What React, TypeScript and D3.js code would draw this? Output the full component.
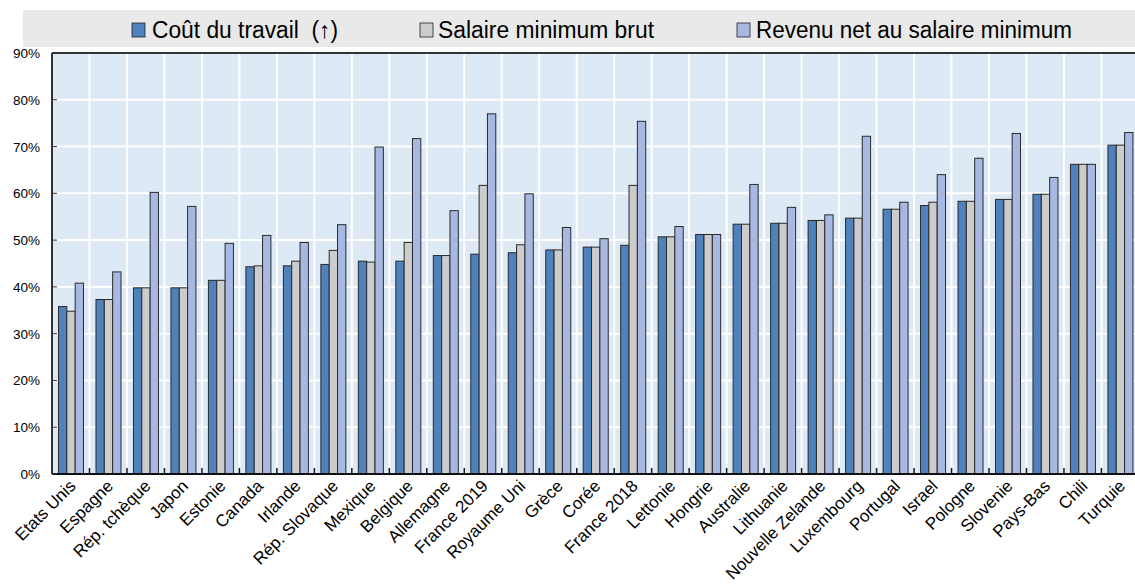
import React from "react";
import * as d3 from "d3";

const categories = ["Etats Unis","Espagne","Rép. tchèque","Japon","Estonie","Canada","Irlande","Rép. Slovaque","Mexique","Belgique","Allemagne","France 2019","Royaume Uni","Grèce","Corée","France 2018","Lettonie","Hongrie","Australie","Lithuanie","Nouvelle Zelande","Luxembourg","Portugal","Israel","Pologne","Slovenie","Pays-Bas","Chili","Turquie"];
const coutTravail = [35.8,37.3,39.8,39.8,41.4,44.3,44.5,44.8,45.5,45.5,46.7,47.0,47.3,47.9,48.5,48.9,50.7,51.2,53.4,53.6,54.2,54.7,56.6,57.4,58.3,58.7,59.8,66.2,70.3];
const salaireBrut = [34.8,37.3,39.8,39.8,41.4,44.5,45.5,47.8,45.3,49.5,46.7,61.7,49.0,47.9,48.5,61.7,50.7,51.2,53.4,53.6,54.2,54.7,56.6,58.1,58.3,58.7,59.8,66.2,70.3];
const revenuNet = [40.8,43.2,60.2,57.2,49.3,51.0,49.5,53.3,69.9,71.7,56.3,77.0,59.9,52.7,50.3,75.4,52.9,51.2,61.9,57.0,55.4,72.2,58.1,64.0,67.5,72.8,63.4,66.2,73.0];
const seriesNames = ["Coût du travail\u00a0\u00a0(↑)","Salaire minimum brut","Revenu net au salaire minimum"];
const yTicks = [0,10,20,30,40,50,60,70,80,90];

const colors = ["#4f81bd","#cccccc","#a7b9e3"];
const W = 1135, H = 587;
const left = 52, top = 53, bottom = 474;
const step = 37.48;
const right = left + step * categories.length;

export default function App() {
  const x = d3.scaleBand<string>().domain(categories).range([left, right]).padding(0);
  const x1 = d3.scaleBand<number>().domain([0,1,2]).range([6.5, 31.5]).padding(0);
  const y = d3.scaleLinear().domain([0, 90]).range([bottom, top]);
  const series = [coutTravail, salaireBrut, revenuNet];
  const font = "'Liberation Sans', Arial, sans-serif";
  const legendItems = [
    { sx: 132, tx: 152, len: 186 },
    { sx: 420, tx: 438, len: 216 },
    { sx: 737, tx: 756, len: 316 },
  ];
  return (
    <div style={{ position: "absolute", left: 0, top: 0 }}>
      <svg width={W} height={H} style={{ display: "block", fontFamily: font }}>
        <rect x={0} y={0} width={W} height={H} fill="#ffffff" />
        {/* legend */}
        <rect x={23} y={10} width={W - 23} height={37} fill="#e9e9e9" />
        {legendItems.map((it, i) => (
          <g key={i}>
            <rect x={it.sx} y={23} width={13} height={14} fill={colors[i]} stroke="#222" strokeWidth={0.8} />
            <text x={it.tx} y={37.5} fontSize={23} fill="#000" textLength={it.len} lengthAdjust="spacingAndGlyphs">{seriesNames[i]}</text>
          </g>
        ))}
        {/* plot bg */}
        <rect x={left} y={top} width={right - left} height={bottom - top} fill="#dde9f5" />
        {/* grid */}
        {yTicks.map((t) => (
          <line key={"h" + t} x1={left} x2={right} y1={y(t)} y2={y(t)} stroke="#ffffff" strokeWidth={2} />
        ))}
        {categories.map((c, i) => i > 0 && (
          <line key={"v" + c} x1={x(c)!} x2={x(c)!} y1={top} y2={bottom} stroke="#ffffff" strokeWidth={2} />
        ))}
        {/* bars */}
        {categories.map((c, i) => (
          <g key={"g" + c} transform={`translate(${x(c)},0)`}>
            {series.map((s, k) => (
              <rect key={k} x={x1(k)!} y={y(s[i])} width={x1.bandwidth()} height={bottom - y(s[i])} fill={colors[k]} stroke="#2a2a2a" strokeWidth={1} />
            ))}
          </g>
        ))}
        {/* frame */}
        <line x1={left} x2={right} y1={top} y2={top} stroke="#333" strokeWidth={2} />
        <line x1={left} x2={left} y1={top} y2={bottom} stroke="#333" strokeWidth={2} />
        <line x1={left} x2={right} y1={bottom} y2={bottom} stroke="#111" strokeWidth={2} />
        {/* ticks */}
        {categories.map((c, i) => i > 0 && (
          <line key={"t" + c} x1={x(c)!} x2={x(c)!} y1={bottom} y2={bottom - 6} stroke="#111" strokeWidth={1.5} />
        ))}
        {yTicks.map((t) => (
          <g key={"y" + t}>
            <line x1={left} x2={left + 5} y1={y(t)} y2={y(t)} stroke="#333" strokeWidth={1} />
            <text x={40} y={y(t) + 5} fontSize={13.5} textAnchor="end" fill="#000">{t + "%"}</text>
          </g>
        ))}
        {/* x labels */}
        {categories.map((c) => {
          const cx = x(c)! + x.bandwidth() / 2 + 6;
          return (
            <text key={"l" + c} transform={`translate(${cx},487) rotate(-45)`} textAnchor="end" fontSize={17} fill="#000">{c}</text>
          );
        })}
      </svg>
    </div>
  );
}
